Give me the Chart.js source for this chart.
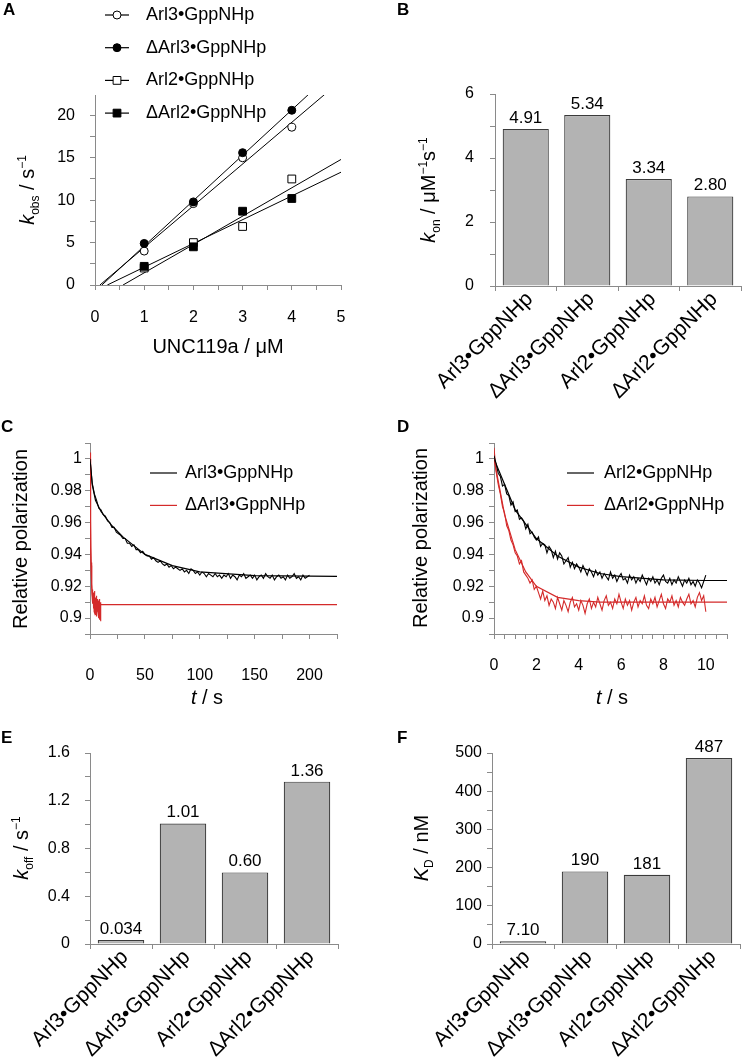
<!DOCTYPE html>
<html lang="en">
<head>
<meta charset="UTF-8">
<title>UNC119a binding kinetics of Arl3 and Arl2</title>
<script src="https://cdn.jsdelivr.net/npm/chart.js@4"></script>
<style>
  body { margin: 0; background: #fff; }
  #page { position: relative; width: 744px; height: 1062px; }
  #page canvas { position: absolute; left: 0; top: 0; }
</style>
</head>
<body>
<div id="page">
  <canvas id="chartA" width="744" height="1062"></canvas>
  <canvas id="chartB" width="744" height="1062"></canvas>
  <canvas id="chartC" width="744" height="1062"></canvas>
  <canvas id="chartD" width="744" height="1062"></canvas>
  <canvas id="chartE" width="744" height="1062"></canvas>
  <canvas id="chartF" width="744" height="1062"></canvas>
</div>
<script>
// ---- data ----
const constructs = ['Arl3•GppNHp', 'ΔArl3•GppNHp', 'Arl2•GppNHp', 'ΔArl2•GppNHp'];

// A: kobs vs UNC119a concentration
const unc119a = [1, 2, 3, 4];
const kobsArl3 = [4.0, 9.6, 15.0, 18.6];
const kobsDArl3 = [4.9, 9.8, 15.6, 20.6];
const kobsArl2 = [2.0, 5.0, 6.9, 12.5];
const kobsDArl2 = [2.2, 4.5, 8.7, 10.2];
// linear fits: x where the line crosses 0, and its value at x = 5
const fitZeroX = [0.10, 0.14, 0.57, 0.25];
const fitAt5 = [24.1, 26.0, 14.8, 13.3];

// B, E, F: bar values
const kon = [4.91, 5.34, 3.34, 2.80];
const konText = ['4.91', '5.34', '3.34', '2.80'];
const koff = [0.034, 1.01, 0.60, 1.36];
const koffText = ['0.034', '1.01', '0.60', '1.36'];
const kd = [7.10, 190, 181, 487];
const kdText = ['7.10', '190', '181', '487'];

// C: dissociation traces (Arl3 sampled every 2 s, ΔArl3 every 0.25 s)
const dtC = 2;
const polArl3 = [
  1.000, 0.985, 0.978, 0.974, 0.969, 0.968, 0.965, 0.964, 0.961, 0.960,
  0.957, 0.957, 0.954, 0.953, 0.952, 0.950, 0.950, 0.947, 0.947, 0.945,
  0.946, 0.943, 0.943, 0.941, 0.942, 0.940, 0.939, 0.939, 0.937, 0.938,
  0.936, 0.935, 0.936, 0.934, 0.933, 0.934, 0.932, 0.933, 0.931, 0.932,
  0.931, 0.930, 0.931, 0.929, 0.930, 0.928, 0.931, 0.930, 0.928, 0.929,
  0.927, 0.929, 0.928, 0.926, 0.928, 0.927, 0.926, 0.928, 0.926, 0.927,
  0.925, 0.927, 0.926, 0.928, 0.925, 0.927, 0.926, 0.924, 0.927, 0.926,
  0.928, 0.925, 0.926, 0.927, 0.925, 0.927, 0.924, 0.926, 0.927, 0.925,
  0.928, 0.926, 0.925, 0.927, 0.924, 0.926, 0.927, 0.925, 0.926, 0.924,
  0.927, 0.925, 0.926, 0.928, 0.925, 0.926, 0.924, 0.927, 0.925, 0.926,
  0.927
];
const dtCd = 0.25;
const polDArl3 = [
  1.004, 0.983, 0.963, 0.944, 0.933, 0.924, 0.919, 0.921, 0.913, 0.918,
  0.909, 0.916, 0.906, 0.912, 0.915, 0.904, 0.910, 0.917, 0.903, 0.908,
  0.913, 0.902, 0.911, 0.906, 0.914, 0.901, 0.909, 0.904, 0.912, 0.906,
  0.903, 0.911, 0.900, 0.907, 0.912, 0.903, 0.899, 0.910, 0.898, 0.906,
  0.905
];
const fitArl3T = [0, 2, 5, 10, 20, 30, 50, 75, 100, 150, 200, 225];
const fitArl3 = [1.000, 0.984, 0.974, 0.967, 0.958, 0.951, 0.940, 0.933, 0.929, 0.9267, 0.9263, 0.9262];
const fitDArl3T = [0, 0.5, 1, 1.5, 2, 3, 4, 6, 225];
const fitDArl3 = [1.000, 0.962, 0.935, 0.922, 0.915, 0.910, 0.909, 0.9084, 0.9084];

// D: dissociation traces (sampled every 0.1 s)
const dtD = 0.1;
const polArl2 = [
  1.002, 0.997, 0.991, 0.989, 0.983, 0.984, 0.978, 0.977, 0.971, 0.973,
  0.967, 0.968, 0.962, 0.963, 0.961, 0.956, 0.959, 0.953, 0.954, 0.951,
  0.949, 0.951, 0.945, 0.947, 0.946, 0.941, 0.945, 0.943, 0.938, 0.942,
  0.937, 0.941, 0.939, 0.934, 0.936, 0.938, 0.932, 0.935, 0.931, 0.934,
  0.932, 0.929, 0.933, 0.930, 0.927, 0.931, 0.929, 0.926, 0.930, 0.927,
  0.929, 0.925, 0.928, 0.926, 0.924, 0.929, 0.925, 0.927, 0.923, 0.926,
  0.928, 0.924, 0.925, 0.922, 0.927, 0.924, 0.926, 0.922, 0.925, 0.923,
  0.927, 0.924, 0.921, 0.925, 0.923, 0.926, 0.922, 0.924, 0.921, 0.925,
  0.927, 0.923, 0.922, 0.925, 0.921, 0.924, 0.922, 0.926, 0.923, 0.920,
  0.924, 0.922, 0.925, 0.921, 0.923, 0.920, 0.924, 0.922, 0.919, 0.923,
  0.927
];
const polDArl2 = [
  1.007, 0.992, 0.984, 0.978, 0.970, 0.966, 0.958, 0.955, 0.949, 0.946,
  0.941, 0.939, 0.934, 0.936, 0.929, 0.927, 0.925, 0.922, 0.924, 0.918,
  0.920, 0.916, 0.912, 0.917, 0.911, 0.914, 0.908, 0.912, 0.910, 0.906,
  0.913, 0.909, 0.905, 0.911, 0.908, 0.904, 0.910, 0.913, 0.907, 0.909,
  0.905, 0.911, 0.908, 0.903, 0.909, 0.912, 0.906, 0.910, 0.907, 0.913,
  0.909, 0.905, 0.911, 0.914, 0.908, 0.910, 0.906, 0.912, 0.909, 0.915,
  0.910, 0.906, 0.912, 0.908, 0.911, 0.905, 0.910, 0.913, 0.907, 0.911,
  0.909, 0.914, 0.908, 0.906, 0.912, 0.909, 0.913, 0.907, 0.911, 0.915,
  0.909, 0.906, 0.912, 0.910, 0.914, 0.908, 0.911, 0.907, 0.913, 0.910,
  0.908, 0.912, 0.915, 0.909, 0.911, 0.907, 0.913, 0.916, 0.911, 0.914,
  0.904
];
const fitArl2T = [0, 1, 2, 3, 4, 5, 6, 8, 10, 11];
const fitArl2 = [1.000, 0.968, 0.950, 0.939, 0.932, 0.928, 0.926, 0.924, 0.9236, 0.9236];
const fitDArl2T = [0, 0.5, 1, 1.5, 2, 3, 4, 5, 11];
const fitDArl2 = [1.000, 0.965, 0.943, 0.929, 0.920, 0.913, 0.911, 0.910, 0.910];

// labelled ticks
const ticksAx = [0, 1, 2, 3, 4, 5];
const ticksAy = [0, 5, 10, 15, 20];
const ticksB = [0, 2, 4, 6];
const ticksCx = [0, 50, 100, 150, 200];
const ticksDx = [0, 2, 4, 6, 8, 10];
const ticksPol = [0.9, 0.92, 0.94, 0.96, 0.98, 1];
const ticksE = [0, 0.4, 0.8, 1.2, 1.6];
const ticksF = [0, 100, 200, 300, 400, 500];

// ---- drawing ----
const W = 744, H = 1062;
const FONT = "'Liberation Sans', Arial, sans-serif";
const AXIS = '#8a8a8a';
const RED = '#d42a2a';
const BAR = '#b3b3b3';

function richText(ctx, runs, cx, cy, rot) {
  const fontOf = r => (r.i ? 'italic ' : '') + (r.sub || r.sup ? 12 : 20) + 'px ' + FONT;
  let total = 0;
  const widths = runs.map(r => {
    ctx.font = fontOf(r);
    const w = ctx.measureText(r.t).width;
    total += w;
    return w;
  });
  ctx.save();
  ctx.translate(cx, cy);
  ctx.rotate(rot || 0);
  ctx.fillStyle = '#000';
  ctx.textAlign = 'left';
  ctx.textBaseline = 'alphabetic';
  let x = -total / 2;
  runs.forEach((r, k) => {
    ctx.font = fontOf(r);
    ctx.fillText(r.t, x, 7 + (r.sub ? 5 : 0) - (r.sup ? 8 : 0));
    x += widths[k];
  });
  ctx.restore();
}

function marker(ctx, d, x, y) {
  const r = d.pointRadius;
  ctx.beginPath();
  if (d.pointStyle === 'rect') {
    const s = r * Math.SQRT1_2;
    ctx.rect(x - s, y - s, 2 * s, 2 * s);
  } else {
    ctx.arc(x, y, r, 0, Math.PI * 2);
  }
  ctx.fillStyle = d.pointBackgroundColor;
  ctx.fill();
  ctx.lineWidth = 1;
  ctx.strokeStyle = d.borderColor;
  ctx.stroke();
}

// titles, panel letters, key, slanted category names and bar values
function decor(spec) {
  return {
    id: 'decor',
    afterDatasetsDraw(chart) {
      if (!spec.values) return;
      const ctx = chart.ctx;
      ctx.save();
      ctx.font = '17px ' + FONT;
      ctx.fillStyle = '#000';
      ctx.textAlign = 'center';
      ctx.textBaseline = 'alphabetic';
      chart.getDatasetMeta(0).data.forEach((bar, k) => ctx.fillText(spec.values[k], bar.x, bar.y - 6));
      ctx.restore();
    },
    afterDraw(chart) {
      const ctx = chart.ctx;
      if (spec.values) {
        const sx = chart.scales.x;
        chart.data.labels.forEach((lab, i) => {
          ctx.save();
          ctx.font = '21px ' + FONT;
          ctx.fillStyle = '#000';
          ctx.textAlign = 'right';
          ctx.textBaseline = 'alphabetic';
          ctx.translate(sx.getPixelForTick(i) + 8, sx.top + 14);
          ctx.rotate(-Math.PI / 4);
          ctx.fillText(lab, 0, 0);
          ctx.restore();
        });
      }
      if (spec.xTitle) richText(ctx, spec.xTitle.runs, spec.xTitle.cx, spec.xTitle.cy, 0);
      if (spec.yTitle) richText(ctx, spec.yTitle.runs, spec.yTitle.cx, spec.yTitle.cy, -Math.PI / 2);
      if (spec.key) {
        const k = spec.key;
        chart.data.datasets.filter(d => d.keyLabel).forEach((d, n) => {
          const y = k.y + n * k.dy;
          ctx.save();
          ctx.strokeStyle = d.borderColor;
          ctx.lineWidth = 1.2;
          ctx.beginPath();
          ctx.moveTo(k.x0, y);
          ctx.lineTo(k.x1, y);
          ctx.stroke();
          if (d.pointRadius) marker(ctx, d, (k.x0 + k.x1) / 2, y);
          ctx.fillStyle = '#000';
          ctx.font = '18px ' + FONT;
          ctx.textAlign = 'left';
          ctx.textBaseline = 'middle';
          ctx.fillText(d.keyLabel, k.tx, y);
          ctx.restore();
        });
      }
      if (spec.tag) {
        ctx.save();
        ctx.font = 'bold 17px ' + FONT;
        ctx.fillStyle = '#000';
        ctx.textBaseline = 'alphabetic';
        ctx.fillText(spec.tag.t, spec.tag.x, spec.tag.y);
        ctx.restore();
      }
    }
  };
}

function axis(o) {
  const labelled = o.labels;
  const ticks = {
    display: !o.hideLabels,
    autoSkip: false,
    includeBounds: false,
    padding: o.pad,
    color: '#000',
    font: { family: FONT, size: 16 },
    maxRotation: 0,
    minRotation: 0
  };
  if (o.step) ticks.stepSize = o.step;
  if (labelled) {
    ticks.callback = function (v) {
      const m = labelled.find(l => Math.abs(l - v) < 1e-6);
      return m === undefined ? '' : String(m);
    };
  }
  const scale = {
    type: o.type || 'linear',
    offset: !!o.offset,
    grid: { display: true, drawOnChartArea: false, drawTicks: true, tickLength: 5, color: AXIS, offset: !!o.offset },
    border: { display: true, color: AXIS, width: 1 },
    ticks: ticks
  };
  if (o.min !== undefined) scale.min = o.min;
  if (o.max !== undefined) scale.max = o.max;
  return scale;
}

// area = chart area in page pixels
function build(id, area, type, data, scales, spec) {
  scales.x.afterFit = s => { s.height = H - area.b; };
  scales.y.afterFit = s => { s.width = area.l; };
  return new Chart(document.getElementById(id), {
    type: type,
    data: data,
    options: {
      responsive: false,
      animation: false,
      layout: { padding: { left: 0, top: area.t, right: W - area.r, bottom: 0 } },
      scales: scales,
      plugins: { legend: { display: false }, tooltip: { enabled: false } }
    },
    plugins: [decor(spec)]
  });
}

const xy = (xs, ys) => xs.map((x, n) => ({ x: x, y: ys[n] }));
const trace = (dt, ys) => ys.map((y, n) => ({ x: n * dt, y: y }));

// A
const symbolsA = [
  { style: 'circle', r: 4, fill: '#fff', order: 1 },
  { style: 'circle', r: 4, fill: '#000', order: 0 },
  { style: 'rect', r: 5.5, fill: '#fff', order: 1 },
  { style: 'rect', r: 5.5, fill: '#000', order: 0 }
];
const seriesA = [kobsArl3, kobsDArl3, kobsArl2, kobsDArl2];
const dataA = {
  datasets: seriesA.map((ys, n) => ({
    keyLabel: constructs[n],
    data: xy(unc119a, ys),
    order: symbolsA[n].order,
    pointStyle: symbolsA[n].style,
    pointRadius: symbolsA[n].r,
    pointBackgroundColor: symbolsA[n].fill,
    borderColor: '#000',
    pointBorderWidth: 1
  })).concat(fitZeroX.map((x0, n) => ({
    data: [{ x: x0, y: 0 }, { x: 5, y: fitAt5[n] }],
    showLine: true,
    order: 2,
    pointRadius: 0,
    borderColor: '#000',
    borderWidth: 1
  })))
};
build('chartA', { l: 95, r: 341, t: 95, b: 285 }, 'scatter', dataA, {
  x: axis({ min: 0, max: 5, step: 0.5, labels: ticksAx, pad: 18 }),
  y: axis({ min: 0, max: 22.4, step: 2.5, labels: ticksAy, pad: 15 })
}, {
  tag: { t: 'A', x: 3, y: 15 },
  key: { x0: 105, x1: 129, tx: 146, y: 15, dy: 32.7 },
  xTitle: { cx: 218, cy: 346, runs: [{ t: 'UNC119a / μM' }] },
  yTitle: { cx: 27, cy: 190, runs: [{ t: 'k', i: 1 }, { t: 'obs', sub: 1 }, { t: ' / s' }, { t: '−1', sup: 1 }] }
});

// bar panels
function barData(values) {
  return {
    labels: constructs,
    datasets: [{
      data: values,
      backgroundColor: BAR,
      borderColor: '#3a3a3a',
      borderWidth: 1.2,
      barPercentage: 0.75,
      categoryPercentage: 1
    }]
  };
}
function barX() {
  return axis({ type: 'category', offset: true, hideLabels: true, pad: 2 });
}

build('chartB', { l: 495, r: 741, t: 94, b: 286 }, 'bar', barData(kon), {
  x: barX(),
  y: axis({ min: 0, max: 6, step: 1, labels: ticksB, pad: 16 })
}, {
  tag: { t: 'B', x: 397, y: 15 },
  values: konText,
  yTitle: { cx: 428, cy: 190, runs: [{ t: 'k', i: 1 }, { t: 'on', sub: 1 }, { t: ' / μM' }, { t: '−1', sup: 1 }, { t: 's' }, { t: '−1', sup: 1 }] }
});

build('chartE', { l: 90, r: 338, t: 753, b: 944 }, 'bar', barData(koff), {
  x: barX(),
  y: axis({ min: 0, max: 1.6, step: 0.2, labels: ticksE, pad: 15 })
}, {
  tag: { t: 'E', x: 1, y: 743 },
  values: koffText,
  yTitle: { cx: 21, cy: 848, runs: [{ t: 'k', i: 1 }, { t: 'off', sub: 1 }, { t: ' / s' }, { t: '−1', sup: 1 }] }
});

build('chartF', { l: 492, r: 740, t: 753, b: 944 }, 'bar', barData(kd), {
  x: barX(),
  y: axis({ min: 0, max: 500, step: 50, labels: ticksF, pad: 5 })
}, {
  tag: { t: 'F', x: 397, y: 743 },
  values: kdText,
  yTitle: { cx: 421, cy: 848, runs: [{ t: 'K', i: 1 }, { t: 'D', sub: 1 }, { t: ' / nM' }] }
});

// polarization panels
function polData(labels, colors, traces, fits) {
  const ds = traces.map((pts, n) => ({
    keyLabel: labels[n],
    data: pts,
    order: n,
    showLine: true,
    pointRadius: 0,
    borderColor: colors[n],
    borderWidth: 1.1
  }));
  return {
    datasets: ds.concat(fits.map((pts, n) => ({
      data: pts,
      order: 3,
      showLine: true,
      pointRadius: 0,
      borderColor: colors[n],
      borderWidth: 1.2
    })))
  };
}
const polTitle = [{ t: 'Relative polarization' }];
const timeTitle = [{ t: 't', i: 1 }, { t: ' / s' }];

build('chartC', { l: 90, r: 337, t: 443, b: 634 }, 'scatter',
  polData([constructs[0], constructs[1]], ['#000', RED],
    [trace(dtC, polArl3), trace(dtCd, polDArl3)],
    [xy(fitArl3T, fitArl3), xy(fitDArl3T, fitDArl3)]), {
  x: axis({ min: 0, max: 225, step: 25, labels: ticksCx, pad: 27 }),
  y: axis({ min: 0.89, max: 1.01, step: 0.01, labels: ticksPol, pad: 3 })
}, {
  tag: { t: 'C', x: 1, y: 432 },
  key: { x0: 150, x1: 177, tx: 185, y: 473, dy: 32.4 },
  xTitle: { cx: 207, cy: 697, runs: timeTitle },
  yTitle: { cx: 20, cy: 539, runs: polTitle }
});

build('chartD', { l: 494, r: 741, t: 443, b: 634 }, 'scatter',
  polData([constructs[2], constructs[3]], ['#000', RED],
    [trace(dtD, polArl2), trace(dtD, polDArl2)],
    [xy(fitArl2T, fitArl2), xy(fitDArl2T, fitDArl2)]), {
  x: axis({ min: 0, max: 11, step: 0.5, labels: ticksDx, pad: 17 }),
  y: axis({ min: 0.89, max: 1.01, step: 0.01, labels: ticksPol, pad: 5 })
}, {
  tag: { t: 'D', x: 397, y: 432 },
  key: { x0: 567, x1: 594, tx: 604, y: 473, dy: 32.4 },
  xTitle: { cx: 612, cy: 697, runs: timeTitle },
  yTitle: { cx: 420, cy: 538, runs: polTitle }
});
</script>
</body>
</html>
